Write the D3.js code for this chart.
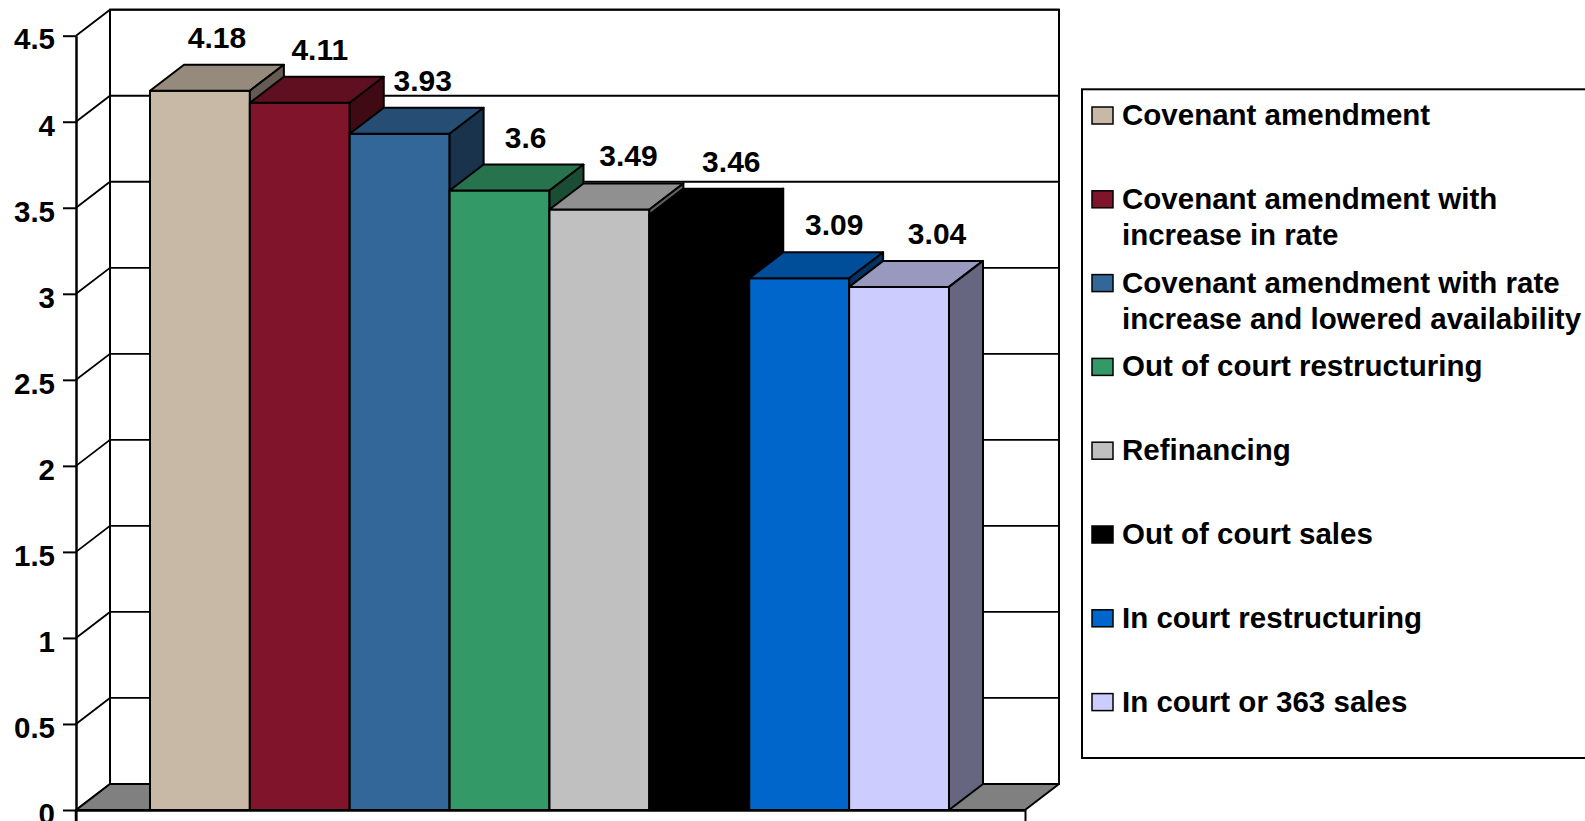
<!DOCTYPE html>
<html>
<head>
<meta charset="utf-8">
<script src="https://cdn.jsdelivr.net/npm/d3@7"></script>
<style>
  html, body { margin: 0; padding: 0; background: #fff; }
  svg { display: block; }
  text { font-family: "Liberation Sans", Arial, Helvetica, sans-serif; font-weight: bold; fill: #000; }
</style>
</head>
<body>
<svg id="chart" width="1585" height="821"></svg>
<script>
// Series (one column each) and their mean scores
const seriesNames = [
  "Covenant amendment",
  "Covenant amendment with increase in rate",
  "Covenant amendment with rate increase and lowered availability",
  "Out of court restructuring",
  "Refinancing",
  "Out of court sales",
  "In court restructuring",
  "In court or 363 sales"
];
const seriesValues = [4.18, 4.11, 3.93, 3.6, 3.49, 3.46, 3.09, 3.04];
const seriesColors = ["#C8B8A6", "#80142A", "#336699", "#339966", "#C0C0C0", "#000000", "#0066CC", "#CCCCFF"];
const yTicks = [0, 0.5, 1, 1.5, 2, 2.5, 3, 3.5, 4, 4.5];

const svg = d3.select("#chart");

// Pseudo-3D layout: front plane plus a receding depth offset
const front = { left: 76, right: 1025, bottom: 810, top: 35.7 };
const depth = { dx: 34, dy: 26 };

const y = d3.scaleLinear().domain([0, 4.5]).range([front.bottom, front.top]);
const x = d3.scaleBand().domain(seriesNames).range([150, 949]).padding(0);
const bw = x.bandwidth();

const shade = (c, k) => {
  const r = d3.rgb(c);
  return d3.rgb(r.r * k, r.g * k, r.b * k).formatHex();
};

const pts = arr => arr.map(p => p.join(",")).join(" ");

// Left wall
const g = svg.append("g");
g.append("polygon")
  .attr("points", pts([[front.left, y(0)], [front.left, y(4.5)], [front.left + depth.dx, y(4.5) - depth.dy], [front.left + depth.dx, y(0) - depth.dy]]))
  .attr("fill", "#fff");
// Back wall
g.append("rect")
  .attr("x", front.left + depth.dx).attr("y", y(4.5) - depth.dy)
  .attr("width", front.right - front.left).attr("height", y(0) - y(4.5))
  .attr("fill", "#fff").attr("stroke", "#000").attr("stroke-width", 2);

// Gridlines across left wall and back wall
const grid = g.append("g").attr("stroke", "#000").attr("stroke-width", 1.8).attr("fill", "none");
yTicks.forEach(t => {
  grid.append("polyline")
    .attr("points", pts([[front.left, y(t)], [front.left + depth.dx, y(t) - depth.dy], [front.right + depth.dx, y(t) - depth.dy]]));
});

// Floor
g.append("polygon")
  .attr("points", pts([[front.left, y(0)], [front.left + depth.dx, y(0) - depth.dy], [front.right + depth.dx, y(0) - depth.dy], [front.right, y(0)]]))
  .attr("fill", "#808080").attr("stroke", "#000").attr("stroke-width", 2).attr("stroke-linejoin", "round");

// Columns, painted left to right
const bars = svg.append("g").selectAll("g.bar")
  .data(seriesNames.map((n, i) => ({ name: n, value: seriesValues[i], color: seriesColors[i], i })))
  .join("g").attr("class", "bar")
  .attr("stroke", "#000").attr("stroke-width", 2).attr("stroke-linejoin", "round");

bars.append("rect")
  .attr("x", d => x(d.name)).attr("y", d => y(d.value))
  .attr("width", bw).attr("height", d => y(0) - y(d.value))
  .attr("fill", d => d.color);
bars.append("polygon")
  .attr("points", d => {
    const x0 = x(d.name), x1 = x0 + bw, yt = y(d.value);
    return pts([[x0, yt], [x0 + depth.dx, yt - depth.dy], [x1 + depth.dx, yt - depth.dy], [x1, yt]]);
  })
  .attr("fill", d => shade(d.color, 0.75));
bars.append("polygon")
  .attr("points", d => {
    const x1 = x(d.name) + bw, yt = y(d.value);
    return pts([[x1, yt], [x1 + depth.dx, yt - depth.dy], [x1 + depth.dx, y(0) - depth.dy], [x1, y(0)]]);
  })
  .attr("fill", d => shade(d.color, 0.5));

// Value axis
const yAxis = d3.axisLeft(y).tickValues(yTicks).tickSize(13).tickSizeOuter(0).tickPadding(8)
  .tickFormat(d3.format(""));
const ya = svg.append("g").attr("transform", `translate(${front.left},0)`).call(yAxis);
ya.select(".domain").attr("stroke", "#000").attr("stroke-width", 2.5);
ya.selectAll(".tick line").attr("stroke", "#000").attr("stroke-width", 2);
ya.selectAll(".tick text").attr("font-size", 29.5).attr("dy", "0.45em")
  .attr("font-family", "Liberation Sans, Arial, sans-serif").attr("font-weight", "bold").attr("fill", "#000");
// Extend the vertical axis line down past the floor edge
svg.append("line").attr("x1", front.left).attr("x2", front.left).attr("y1", y(0)).attr("y2", 821)
  .attr("stroke", "#000").attr("stroke-width", 2.5);

// Category axis (single category spanning the front edge)
const xc = d3.scaleLinear().domain([0, 1]).range([front.left, front.right]);
const xa = svg.append("g").attr("transform", `translate(0,${y(0)})`)
  .call(d3.axisBottom(xc).tickValues([0, 1]).tickFormat("").tickSize(12).tickSizeOuter(0));
xa.select(".domain").attr("stroke", "#000").attr("stroke-width", 2.5);
xa.selectAll(".tick line").attr("stroke", "#000").attr("stroke-width", 2);

// Value labels over each column
svg.append("g").selectAll("text")
  .data(seriesValues)
  .join("text")
  .attr("x", (d, i) => x(seriesNames[i]) + bw / 2 + depth.dx / 2 + 3 * i)
  .attr("y", d => y(d) - depth.dy - 17)
  .attr("text-anchor", "middle")
  .attr("font-size", 30)
  .text(d => d);

// Legend
const legend = svg.append("g");
legend.append("rect")
  .attr("x", 1082).attr("y", 89.3).attr("width", 520).attr("height", 668.7)
  .attr("fill", "#fff").attr("stroke", "#000").attr("stroke-width", 2);

const slot = 83.8, firstBase = 125, lineGap = 36, maxW = 470;
seriesNames.forEach((name, i) => {
  const base = firstBase + slot * i;
  legend.append("rect")
    .attr("x", 1092).attr("y", base - 18).attr("width", 21).attr("height", 17)
    .attr("fill", seriesColors[i]).attr("stroke", "#000").attr("stroke-width", 1.5);
  const t = legend.append("text").attr("x", 1122).attr("y", base).attr("font-size", 29.5);
  // word-wrap to the legend width
  const words = name.split(" ");
  let line = [], lineNo = 0;
  let tspan = t.append("tspan").attr("x", 1122).attr("y", base);
  words.forEach(w => {
    line.push(w);
    tspan.text(line.join(" "));
    if (tspan.node().getComputedTextLength() > maxW && line.length > 1) {
      line.pop();
      tspan.text(line.join(" "));
      line = [w];
      lineNo++;
      tspan = t.append("tspan").attr("x", 1122).attr("y", base + lineGap * lineNo).text(w);
    }
  });
});
</script>
</body>
</html>
